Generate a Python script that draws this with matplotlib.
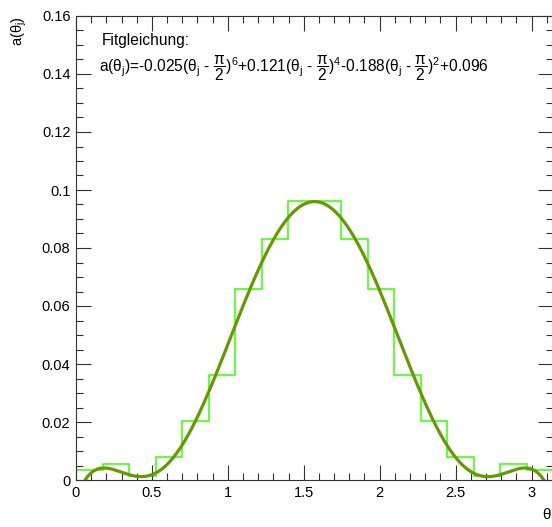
import numpy as np
import matplotlib
matplotlib.use('Agg')
import matplotlib.pyplot as plt
from matplotlib.ticker import MultipleLocator, FuncFormatter

plt.rcParams['font.family'] = ['Liberation Sans', 'DejaVu Sans']
plt.rcParams['mathtext.fontset'] = 'custom'
plt.rcParams['mathtext.rm'] = 'Liberation Sans'
plt.rcParams['mathtext.it'] = 'Liberation Sans'
plt.rcParams['mathtext.sf'] = 'Liberation Sans'

# histogram: 18 bins over [0, pi]
n_bins = 18
bin_edges = np.linspace(0, np.pi, n_bins + 1)
bin_values = [0.0034, 0.0054, 0.0015, 0.0080, 0.0203, 0.0362,
              0.0660, 0.0832, 0.0962, 0.0962, 0.0832, 0.0660,
              0.0362, 0.0203, 0.0080, 0.0015, 0.0054, 0.0034]

# fit polynomial in (theta - pi/2): coefficients of powers 6, 4, 2, 0
fit_coeffs = [-0.025, 0.121, -0.188, 0.096]
fit_powers = [6, 4, 2, 0]

theta = np.linspace(0, np.pi, 600)
u = theta - np.pi / 2
fit = sum(c * u**p for c, p in zip(fit_coeffs, fit_powers))

W, H = 552, 527
fig = plt.figure(figsize=(W / 100, H / 100), dpi=100)
fig.patch.set_facecolor('white')
x0, x1, y0, y1 = 76, 553, 16, 480
ax = fig.add_axes([x0 / W, 1 - y1 / H, (x1 - x0) / W, (y1 - y0) / H])

ax.stairs(bin_values, bin_edges, baseline=None, color='#33ff00', lw=1.1)
ax.plot(theta, fit, color='#649a00', lw=2.3, solid_capstyle='round')

ax.set_xlim(0, np.pi)
ax.set_ylim(0, 0.16)

ax.xaxis.set_major_locator(MultipleLocator(0.5))
ax.xaxis.set_minor_locator(MultipleLocator(0.1))
ax.yaxis.set_major_locator(MultipleLocator(0.02))
ax.yaxis.set_minor_locator(MultipleLocator(0.005))
fmt = FuncFormatter(lambda v, pos: '%g' % round(v, 4))
ax.xaxis.set_major_formatter(fmt)
ax.yaxis.set_major_formatter(fmt)

ax.tick_params(which='both', direction='in', top=True, right=True,
               color='#333333', width=0.8)
ax.tick_params(which='major', length=10.5, labelsize=10.5, pad=4)
ax.tick_params(which='minor', length=5)
for s in ax.spines.values():
    s.set_color('#333333')
    s.set_linewidth(0.8)

ax.text(0.054, 0.938, 'Fitgleichung:', transform=ax.transAxes,
        fontsize=11.2, ha='left', va='baseline')
half_pi = r'$\dfrac{\pi}{2}$'
formula = ('a(θ$_j$)=-0.025(θ$_j$ - ' + half_pi + ')$^6$'
           '+0.121(θ$_j$ - ' + half_pi + ')$^4$'
           '-0.188(θ$_j$ - ' + half_pi + ')$^2$+0.096')
ax.text(0.049, 0.880, formula, transform=ax.transAxes,
        fontsize=11.2, ha='left', va='baseline')

fig.text(19 / W, 1 - 16 / H, 'a(θ$_j$)', rotation=90, fontsize=10.5,
         ha='center', va='top')
fig.text(546 / W, 1 - 515 / H, 'θ', fontsize=11,
         ha='center', va='center')

fig.savefig('out.png', dpi=100)
